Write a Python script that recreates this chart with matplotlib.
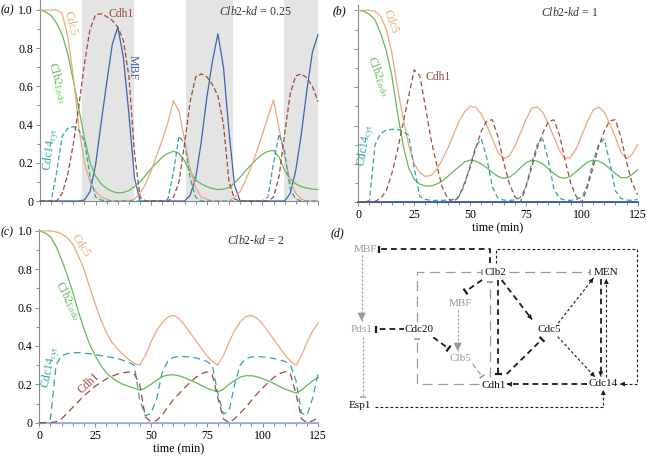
import matplotlib
matplotlib.use("Agg")
import matplotlib.pyplot as plt
import numpy as np
from matplotlib.ticker import FixedLocator, MultipleLocator

plt.rcParams.update({
    "font.family": "Liberation Serif",
    "font.size": 8.5,
    "mathtext.fontset": "custom",
    "mathtext.rm": "Liberation Serif",
    "mathtext.it": "Liberation Serif:italic",
    "axes.linewidth": 0.8,
})

FIG_W, FIG_H = 647, 458

# sampling grid of the simulations (min)
TIME = np.linspace(0, 125, 51)

X_TICKS = [0, 25, 50, 75, 100, 125]
Y_TICKS = [0, 0.2, 0.4, 0.6, 0.8, 1.0]
Y_TICK_LABELS = ["0", "0.2", "0.4", "0.6", "0.8", "1.0"]

# (a) Clb2-kd = 0.25 -- grey bands
SHADE_START = [19.0, 65.6, 109.6]
SHADE_END = [42.3, 86.8, 125.0]

CDC5_A = [1.0, 1.0, 1.0, 1.0, 0.98, 0.86, 0.65, 0.38, 0.2, 0.1,
          0.05, 0.02, 0.01, 0.0, 0.0, 0.0, 0.0, 0.01, 0.04, 0.09,
          0.16, 0.24, 0.32, 0.41, 0.525, 0.47, 0.32, 0.17, 0.07, 0.02,
          0.01, 0.0, 0.0, 0.0, 0.0, 0.02, 0.05, 0.11, 0.18, 0.26,
          0.35, 0.44, 0.53, 0.38, 0.23, 0.1, 0.04, 0.01, 0.0, 0.0, 0.0]
CLB2_A = [1.0, 0.99, 0.97, 0.93, 0.87, 0.77, 0.63, 0.48, 0.33, 0.2,
          0.13, 0.09, 0.065, 0.05, 0.042, 0.045, 0.055, 0.075, 0.1, 0.135,
          0.17, 0.2, 0.23, 0.25, 0.26, 0.25, 0.21, 0.155, 0.11, 0.09,
          0.075, 0.065, 0.06, 0.062, 0.07, 0.095, 0.125, 0.16, 0.19, 0.22,
          0.245, 0.26, 0.265, 0.23, 0.16, 0.115, 0.09, 0.075, 0.068, 0.062, 0.06]
CDC14_A = [0.0, 0.0, 0.0, 0.15, 0.34, 0.38, 0.39, 0.37, 0.31, 0.13,
           0.02, 0.005, 0.0, 0.0, 0.0, 0.0, 0.0, 0.0, 0.0, 0.0,
           0.0, 0.0, 0.0, 0.01, 0.15, 0.34, 0.3, 0.12, 0.02, 0.0,
           0.0, 0.0, 0.0, 0.0, 0.0, 0.0, 0.0, 0.0, 0.0, 0.0,
           0.0, 0.02, 0.2, 0.35, 0.26, 0.06, 0.01, 0.0, 0.0, 0.0, 0.0]
CDH1_A = [0.0, 0.0, 0.0, 0.0, 0.04, 0.14, 0.3, 0.5, 0.72, 0.9,
          0.975, 0.98, 0.965, 0.945, 0.91, 0.84, 0.65, 0.25, 0.02, 0.0,
          0.0, 0.0, 0.0, 0.0, 0.02, 0.1, 0.3, 0.52, 0.65, 0.665,
          0.65, 0.61, 0.55, 0.4, 0.1, 0.01, 0.0, 0.0, 0.0, 0.0,
          0.0, 0.0, 0.02, 0.13, 0.35, 0.56, 0.655, 0.665, 0.645, 0.6, 0.52]
MBF_A = [0.0, 0.0, 0.0, 0.0, 0.0, 0.0, 0.0, 0.0, 0.005, 0.05,
         0.19, 0.41, 0.62, 0.82, 0.91, 0.75, 0.45, 0.12, 0.0, 0.0,
         0.0, 0.0, 0.0, 0.0, 0.0, 0.0, 0.0, 0.03, 0.12, 0.31,
         0.54, 0.73, 0.875, 0.7, 0.36, 0.08, 0.0, 0.0, 0.0, 0.0,
         0.0, 0.0, 0.0, 0.0, 0.0, 0.04, 0.16, 0.35, 0.58, 0.78, 0.87]

# (b) Clb2-kd = 1
CDC5_B = [1.0, 1.0, 1.0, 0.995, 0.97, 0.9, 0.78, 0.6, 0.44, 0.3,
          0.2, 0.155, 0.135, 0.14, 0.17, 0.22, 0.28, 0.35, 0.42, 0.47,
          0.5, 0.495, 0.46, 0.4, 0.33, 0.26, 0.228, 0.24, 0.29, 0.36,
          0.43, 0.49, 0.497, 0.47, 0.41, 0.34, 0.27, 0.228, 0.235, 0.28,
          0.35, 0.42, 0.48, 0.497, 0.47, 0.41, 0.34, 0.26, 0.228, 0.25, 0.3]
CLB2_B = [1.0, 0.995, 0.98, 0.95, 0.88, 0.79, 0.66, 0.47, 0.3, 0.18,
          0.12, 0.095, 0.085, 0.085, 0.095, 0.11, 0.135, 0.16, 0.185, 0.21,
          0.22, 0.215, 0.2, 0.18, 0.155, 0.135, 0.125, 0.13, 0.15, 0.18,
          0.205, 0.22, 0.215, 0.2, 0.175, 0.15, 0.13, 0.125, 0.135, 0.16,
          0.185, 0.21, 0.22, 0.215, 0.2, 0.175, 0.15, 0.128, 0.128, 0.145, 0.17]
CDC14_B = [0.0, 0.0, 0.01, 0.3, 0.36, 0.375, 0.38, 0.38, 0.37, 0.35,
           0.18, 0.03, 0.015, 0.01, 0.01, 0.01, 0.012, 0.015, 0.03, 0.09,
           0.19, 0.29, 0.33, 0.23, 0.08, 0.02, 0.012, 0.01, 0.012, 0.025,
           0.08, 0.2, 0.3, 0.33, 0.22, 0.07, 0.02, 0.012, 0.01, 0.015,
           0.025, 0.09, 0.21, 0.3, 0.33, 0.21, 0.06, 0.02, 0.012, 0.01, 0.015]
CDH1_B = [0.0, 0.0, 0.0, 0.005, 0.02, 0.06, 0.15, 0.27, 0.41, 0.55,
          0.69, 0.66, 0.5, 0.33, 0.2, 0.08, 0.02, 0.0, 0.03, 0.1,
          0.18, 0.28, 0.37, 0.425, 0.43, 0.34, 0.21, 0.1, 0.03, 0.0,
          0.08, 0.18, 0.28, 0.36, 0.42, 0.43, 0.35, 0.22, 0.1, 0.03,
          0.0, 0.08, 0.18, 0.29, 0.37, 0.425, 0.43, 0.34, 0.21, 0.1, 0.04]
MBF_B = [0.0] * 51   # MBF stays off

# (c) Clb2-kd = 2
CDC5_C = [1.0, 1.0, 1.0, 0.995, 0.985, 0.965, 0.93, 0.87, 0.8, 0.71,
          0.62, 0.54, 0.47, 0.42, 0.385, 0.355, 0.33, 0.31, 0.3, 0.35,
          0.42, 0.48, 0.52, 0.55, 0.56, 0.545, 0.51, 0.47, 0.43, 0.39,
          0.35, 0.32, 0.3, 0.35, 0.42, 0.48, 0.525, 0.553, 0.56, 0.545,
          0.515, 0.475, 0.435, 0.395, 0.355, 0.32, 0.3, 0.35, 0.42, 0.48, 0.52]
CLB2_C = [1.0, 0.99, 0.97, 0.92, 0.85, 0.77, 0.68, 0.58, 0.49, 0.41,
          0.35, 0.3, 0.26, 0.235, 0.215, 0.2, 0.19, 0.18, 0.17, 0.18,
          0.2, 0.22, 0.24, 0.248, 0.25, 0.245, 0.235, 0.222, 0.21, 0.195,
          0.18, 0.17, 0.16, 0.175, 0.2, 0.22, 0.238, 0.245, 0.245, 0.24,
          0.23, 0.218, 0.205, 0.19, 0.175, 0.165, 0.155, 0.17, 0.195, 0.218, 0.236]
CDC14_C = [0.0, 0.0, 0.02, 0.3, 0.35, 0.36, 0.365, 0.365, 0.362, 0.36,
           0.355, 0.35, 0.345, 0.34, 0.335, 0.325, 0.315, 0.3, 0.12, 0.035,
           0.05, 0.12, 0.26, 0.32, 0.34, 0.345, 0.345, 0.342, 0.338, 0.33,
           0.32, 0.3, 0.15, 0.045, 0.06, 0.2, 0.3, 0.335, 0.342, 0.345,
           0.343, 0.34, 0.335, 0.328, 0.32, 0.3, 0.22, 0.05, 0.04, 0.13, 0.26]
CDH1_C = [0.0, 0.0, 0.0, 0.005, 0.02, 0.05, 0.08, 0.11, 0.14, 0.165,
          0.19, 0.21, 0.228, 0.242, 0.253, 0.26, 0.265, 0.255, 0.2, 0.03,
          0.005, 0.01, 0.04, 0.08, 0.12, 0.15, 0.18, 0.21, 0.235, 0.255,
          0.265, 0.25, 0.13, 0.02, 0.0, 0.02, 0.05, 0.08, 0.115, 0.15,
          0.18, 0.21, 0.235, 0.255, 0.266, 0.255, 0.15, 0.02, 0.0, 0.01, 0.025]
MBF_C = [0.0] * 51

# (d) network: name -> (x, y, grey?) in panel units (origin top-left)
NODE_NAMES = ["MBF", "Clb2", "MEN", "MBF", "Pds1", "Cdc20", "Cdc5", "Clb5", "Cdh1", "Cdc14", "Esp1"]
NODE_X = [35, 165.7, 276, 130.7, 31.7, 89, 219, 130.7, 163.3, 273.3, 30]
NODE_Y = [19, 42.3, 42.3, 74, 99, 99, 99, 128.3, 155, 154, 175.7]
NODE_GREY = [True, False, False, True, True, False, False, True, False, False, False]

# (points, line style, end marker)
EDGES = [
    ([(160, 33), (160, 19), (49.5, 19)], "heavy", "bar"),          # Clb2 -| MBF
    ([(166, 33), (166, 19), (306.7, 19), (306.7, 154), (290, 154)], "thin", "arrow"),
    ([(149, 154), (87, 154), (87, 108.5)], "grey_long", "bar"),    # Cdh1 -| Cdc20
    ([(87, 92), (87, 42.3), (151.5, 42.3)], "grey_long", "bar"),   # Cdc20 -| Clb2
    ([(179, 42.3), (259.5, 42.3)], "grey_long", "bar"),            # Clb2 -| MEN
    ([(152, 50), (135.5, 61.5)], "heavy", "bar"),                  # Clb2 -| MBF
    ([(127.7, 80), (127.7, 121)], "grey_fine", "arrow"),           # MBF -> Clb5
    ([(103.3, 107.3), (118.5, 118.5)], "heavy", "bar"),            # Cdc20 -| Clb5
    ([(142.7, 134), (152, 146.5)], "grey_mid", "bar"),             # Clb5 -| Cdh1
    ([(168.3, 50), (168.3, 144)], "heavy", "bar"),                 # Clb2 -| Cdh1
    ([(160, 147), (160, 52)], "grey_long", "bar"),                 # Cdh1 -| Clb2
    ([(171.7, 50), (202, 89.5)], "heavy", "arrow"),                # Clb2 -> Cdc5
    ([(228.3, 93), (263.5, 48)], "thin", "arrow"),                 # Cdc5 -> MEN
    ([(176.7, 144), (212, 109.3)], "heavy", "bar"),                # Cdh1 -| Cdc5
    ([(227.7, 106.7), (265, 147)], "thin", "arrow"),               # Cdc5 -> Cdc14
    ([(270.7, 49), (270.7, 146.5)], "heavy", "arrow"),             # MEN -> Cdc14
    ([(276.3, 147), (276.3, 49)], "thin", "arrow"),                # Cdc14 -> MEN
    ([(257, 154.3), (177, 154.3)], "heavy", "arrow"),              # Cdc14 -> Cdh1
    ([(75.5, 99), (46, 99)], "heavy", "bar"),                      # Cdc20 -| Pds1
    ([(31.7, 25), (31.7, 91)], "grey_fine", "arrow"),              # MBF -> Pds1
    ([(33.3, 106.5), (33.3, 167)], "grey_fine", "bar"),            # Pds1 -| Esp1
    ([(45, 176.7), (273.3, 176.7), (273.3, 160)], "thin", "arrow"),  # Esp1 -> Cdc14
]

EDGE_STYLES = {
    "heavy":     dict(color="#1a1a1a", lw=1.3, dashes=(3.2, 2.2), head=7, bar=3.5),
    "thin":      dict(color="#1a1a1a", lw=0.8, dashes=(2.5, 2.0), head=7, bar=3.0),
    "grey_long": dict(color="#9a9a9a", lw=0.9, dashes=(8, 4.5), head=10, bar=3.0),
    "grey_mid":  dict(color="#9a9a9a", lw=0.9, dashes=(4, 2.5), head=10, bar=3.0),
    "grey_fine": dict(color="#9a9a9a", lw=0.8, dashes=(2, 1.6), head=13, bar=3.0),
}

C_CDC5 = "#f2a47c"
C_CLB2 = "#62bb55"
C_CDC14 = "#2fa3a8"
C_CDH1 = "#a0493d"
C_MBF = "#3d64b0"
AXIS_GREY = "#8a8a8a"


def px_axes(fig, left, top, right, bottom):
    return fig.add_axes([left / FIG_W, 1 - bottom / FIG_H,
                         (right - left) / FIG_W, (bottom - top) / FIG_H])


def style_axes(ax, ytop, xlabels, ylabels):
    ax.set_xlim(0, 125)
    ax.set_ylim(0, ytop)
    for s in ("top", "right"):
        ax.spines[s].set_visible(False)
    for s in ("left", "bottom"):
        ax.spines[s].set_color(AXIS_GREY)
    ax.xaxis.set_major_locator(FixedLocator(X_TICKS))
    ax.xaxis.set_minor_locator(MultipleLocator(5))
    ax.yaxis.set_major_locator(FixedLocator(Y_TICKS))
    ax.yaxis.set_minor_locator(MultipleLocator(0.1))
    ax.set_yticklabels(Y_TICK_LABELS)
    ax.tick_params(which="both", direction="out", color=AXIS_GREY, width=0.7,
                   labelsize=8.5, pad=2)
    ax.tick_params(which="major", length=3)
    ax.tick_params(which="minor", length=2)
    ax.tick_params(axis="x", labelbottom=xlabels)
    ax.tick_params(axis="y", labelleft=ylabels)
    if xlabels:
        ax.set_xlabel("time (min)", fontsize=8.7, labelpad=1)


def draw_curves(ax, cdc5, clb2, cdc14, cdh1, mbf, dash, mbf_color, mbf_lw):
    ax.plot(TIME, mbf, color=mbf_color, lw=mbf_lw, clip_on=False, zorder=3)
    ax.plot(TIME, clb2, color=C_CLB2, lw=0.9, clip_on=False, zorder=4)
    ax.plot(TIME, cdc5, color=C_CDC5, lw=0.9, clip_on=False, zorder=4)
    ax.plot(TIME, cdc14, color=C_CDC14, lw=0.9, dashes=dash, clip_on=False, zorder=5)
    ax.plot(TIME, cdh1, color=C_CDH1, lw=0.9, dashes=dash, clip_on=False, zorder=5)


def label(ax, t, v, text, color, rot=0, size=8.5):
    ax.text(t, v, text, color=color, rotation=rot, rotation_mode="anchor",
            ha="center", va="center", fontsize=size)


def draw_edge(ax, pts, style, end):
    st = EDGE_STYLES[style]
    xs = [p[0] for p in pts]
    ys = [p[1] for p in pts]
    ax.plot(xs, ys, color=st["color"], lw=st["lw"], dashes=st["dashes"],
            dash_capstyle="butt")
    (x0, y0), (x1, y1) = pts[-2], pts[-1]
    n = np.hypot(x1 - x0, y1 - y0)
    ux, uy = (x1 - x0) / n, (y1 - y0) / n
    if end == "arrow":
        ax.annotate("", xy=(x1, y1), xytext=(x1 - ux * 2, y1 - uy * 2),
                    arrowprops=dict(arrowstyle="-|>", color=st["color"], lw=0.5,
                                    mutation_scale=st["head"], shrinkA=0, shrinkB=0))
    else:
        h = st["bar"]
        ax.plot([x1 - uy * h, x1 + uy * h], [y1 + ux * h, y1 - ux * h],
                color=st["color"], lw=st["lw"] + 0.3, solid_capstyle="butt")


fig = plt.figure(figsize=(FIG_W / 100, FIG_H / 100), dpi=100)

# ---------------- (a)
ax_a = px_axes(fig, 40, 0, 318, 201)
style_axes(ax_a, 1.052, False, True)
for s0, s1 in zip(SHADE_START, SHADE_END):
    ax_a.axvspan(s0, s1, color="#e4e4e4", lw=0, zorder=0)
draw_curves(ax_a, CDC5_A, CLB2_A, CDC14_A, CDH1_A, MBF_A, (4, 2), C_MBF, 0.9)
label(ax_a, 13.9, 0.93, "Cdc5", C_CDC5, -76)
label(ax_a, 36.4, 0.98, "Cdh1", C_CDH1)
label(ax_a, 41.8, 0.70, "MBF", C_MBF, -90)
label(ax_a, 7.8, 0.62, r"Clb2$_{\mathrm{Endo}}$", C_CLB2, -75)
label(ax_a, 4.6, 0.27, r"Cdc14$_{\mathrm{cyt}}$", C_CDC14, 82)
label(ax_a, 97, 0.99, r"$\mathit{Clb2}$-$\mathit{kd}$ = 0.25", "#333333")

# ---------------- (b)
ax_b = px_axes(fig, 358.3, 5, 637.7, 202.3)
style_axes(ax_b, 1.028, True, False)
draw_curves(ax_b, CDC5_B, CLB2_B, CDC14_B, CDH1_B, MBF_B, (4, 2.5), "#3b5aa3", 1.3)
label(ax_b, 14.6, 0.94, "Cdc5", C_CDC5, -70)
label(ax_b, 9.2, 0.66, r"Clb2$_{\mathrm{Endo}}$", C_CLB2, -69)
label(ax_b, 35.7, 0.655, "Cdh1", C_CDH1)
label(ax_b, 3.2, 0.295, r"Cdc14$_{\mathrm{cyt}}$", C_CDC14, 80)
label(ax_b, 94.5, 0.99, r"$\mathit{Clb2}$-$\mathit{kd}$ = 1", "#333333")

# ---------------- (c)
ax_c = px_axes(fig, 39.3, 229, 318.3, 422.7)
style_axes(ax_c, 1.01, True, True)
draw_curves(ax_c, CDC5_C, CLB2_C, CDC14_C, CDH1_C, MBF_C, (5.5, 3.5), "#9db0dd", 1.3)
label(ax_c, 18.7, 0.92, "Cdc5", C_CDC5, -57)
label(ax_c, 13, 0.64, r"Clb2$_{\mathrm{Endo}}$", C_CLB2, -63)
label(ax_c, 4.8, 0.29, r"Cdc14$_{\mathrm{cyt}}$", C_CDC14, 78)
label(ax_c, 22.3, 0.205, "Cdh1", C_CDH1, 43)
label(ax_c, 97.2, 0.95, r"$\mathit{Clb2}$-$\mathit{kd}$ = 2", "#333333")

# ---------------- (d)
ax_d = px_axes(fig, 330, 230, 647, 458)
ax_d.set_xlim(0, 317)
ax_d.set_ylim(228, 0)
ax_d.axis("off")
for pts, style, end in EDGES:
    draw_edge(ax_d, pts, style, end)
for name, x, y, grey in zip(NODE_NAMES, NODE_X, NODE_Y, NODE_GREY):
    ax_d.text(x, y, name, ha="center", va="center", fontsize=8,
              color="#9a9a9a" if grey else "#111111",
              bbox=dict(boxstyle="square,pad=0.05", fc="white", ec="none"))

# panel letters
for x, y, s in [(7, 10, "(a)"), (339, 11, "(b)"), (7, 232, "(c)"), (337, 233, "(d)")]:
    fig.text(x / FIG_W, 1 - y / FIG_H, s, fontsize=8.5, fontstyle="italic",
             ha="center", va="center")

fig.savefig("out.png", dpi=100)
